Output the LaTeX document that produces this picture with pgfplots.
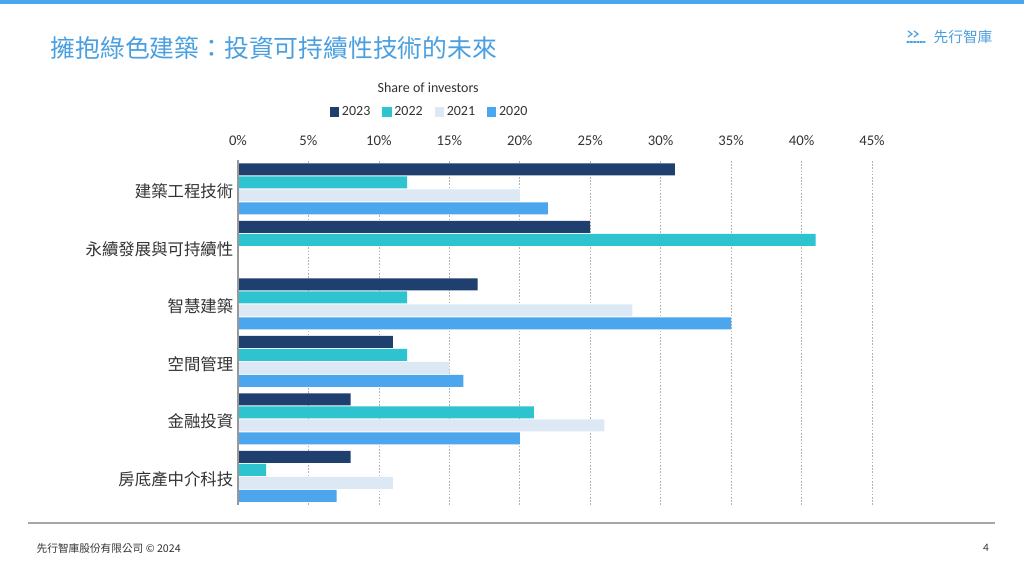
\documentclass[border=0pt]{standalone}
\usepackage{pgfplots}
\pgfplotsset{compat=1.18}
\usepackage{fontspec}
\setmainfont{Carlito}
\newfontfamily\cjk{Noto Sans CJK TC}
\definecolor{c2023}{HTML}{1F3F6E}
\definecolor{c2022}{HTML}{2EC4CF}
\definecolor{c2021}{HTML}{DDE8F5}
\definecolor{c2020}{HTML}{4BA6EE}
\definecolor{titleblue}{HTML}{4A9FE0}
\definecolor{labgray}{HTML}{333333}
\begin{document}
\begin{tikzpicture}
\fill[white] (0,0) rectangle (768pt,-432pt);
\useasboundingbox (0,0) rectangle (768pt,-432pt);
% top bar
\fill[c2020] (0,0) rectangle (768pt,-3pt);
% title
\node[anchor=west, text=titleblue, font=\cjk\fontsize{18.6}{20}\selectfont] at ({46*0.75pt},{-48*0.75pt}) {擁抱綠色建築：投資可持續性技術的未來};
% logo
\begin{scope}[titleblue, line width=0.9pt, line cap=round]
\draw ({908*0.75pt},{-31*0.75pt}) -- ({912*0.75pt},{-34*0.75pt}) -- ({908*0.75pt},{-37*0.75pt});
\draw ({914*0.75pt},{-31*0.75pt}) -- ({918*0.75pt},{-34*0.75pt}) -- ({914*0.75pt},{-37*0.75pt});
\draw[dash pattern=on 1.5pt off 1pt] ({907*0.75pt},{-42*0.75pt}) -- ({925*0.75pt},{-42*0.75pt});
\end{scope}
\node[anchor=west, text=titleblue, font=\cjk\fontsize{11}{12}\selectfont] at ({929*0.75pt},{-37*0.75pt}) {先行智庫};
% footer
\draw[gray!70, line width=0.8pt] ({28*0.75pt},{-523*0.75pt}) -- ({995*0.75pt},{-523*0.75pt});
\node[anchor=west, text=labgray, font=\cjk\fontsize{8}{9}\selectfont] at ({32*0.75pt},{-548*0.75pt}) {先行智庫股份有限公司 \textcopyright{} 2024};
\node[anchor=center, text=labgray, font=\fontsize{8.5}{9}\selectfont] at ({986*0.75pt},{-548*0.75pt}) {4};
\begin{axis}[
  at={({238*0.75pt},{-505*0.75pt})}, anchor=south west,
  scale only axis, width={634*0.75pt}, height={345*0.75pt},
  xbar, bar width=9pt,
  xmin=0, xmax=45, ymin=-0.5, ymax=5.5,
  xtick={0,5,...,45},
  xticklabel pos=upper,
  xticklabel={\pgfmathprintnumber{\tick}\%},
  /pgf/number format/assume math mode=true,
  xticklabel style={font=\fontsize{11}{12}\selectfont, text=labgray, yshift=7pt},
  ytick={0,1,2,3,4,5},
  yticklabels={房底產中介科技,金融投資,空間管理,智慧建築,永續發展與可持續性,建築工程技術},
  yticklabel style={font=\cjk\fontsize{12.3}{13}\selectfont, text=labgray, yshift=-2pt},
  major tick length=0pt,
  axis line style={draw=none},
  xmajorgrids, major grid style={gray!60, line width=0.5pt, dash pattern=on 1.2pt off 1.2pt},
  legend columns=4,
  legend style={draw=none, fill=none, at={(0.303,1.139)}, anchor=center, font=\fontsize{10.5}{12}\selectfont, text=labgray,
    /tikz/every even column/.append style={column sep=7pt}},
  legend image code/.code={\fill[#1] (0pt,-3.5pt) rectangle (7pt,3.5pt);},
  clip=false,
]
\addplot[fill=c2023, draw=none, bar shift=14.625pt] coordinates {(31,5) (25,4) (17,3) (11,2) (8,1) (8,0)};
\addplot[fill=c2022, draw=none, bar shift=4.875pt] coordinates {(12,5) (41,4) (12,3) (12,2) (21,1) (2,0)};
\addplot[fill=c2021, draw=none, bar shift=-4.875pt] coordinates {(20,5) (0,4) (28,3) (15,2) (26,1) (11,0)};
\addplot[fill=c2020, draw=none, bar shift=-14.625pt] coordinates {(22,5) (0,4) (35,3) (16,2) (20,1) (7,0)};
\legend{2023,2022,2021,2020}
\draw[gray!80, line width=0.8pt] (axis cs:0,-0.5) -- (axis cs:0,5.5);
\node[font=\fontsize{10.5}{12}\selectfont, text=labgray] at (rel axis cs:0.3,1.209) {Share of investors};
\end{axis}
\end{tikzpicture}
\end{document}
